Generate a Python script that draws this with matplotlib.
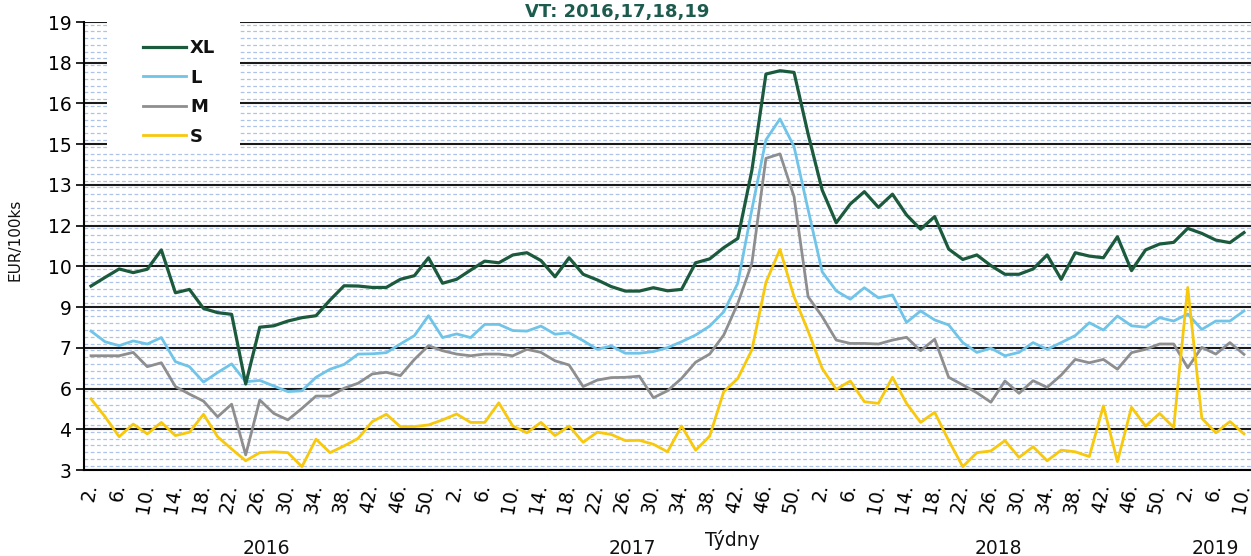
import numpy as np
import matplotlib
matplotlib.use("Agg")
import matplotlib.pyplot as plt
from matplotlib.patches import Rectangle
from matplotlib.ticker import FixedLocator, MultipleLocator

# týdny (každý druhý týden)
weeks_2016 = list(range(2, 53, 2))
weeks_2017 = list(range(2, 53, 2))
weeks_2018 = list(range(2, 53, 2))
weeks_2019 = [2, 4, 6, 8, 10]
years = ["2016", "2017", "2018", "2019"]

xl = [9.57, 9.88, 10.18, 10.05, 10.17, 10.86, 9.33, 9.45, 8.77, 8.62, 8.56, 6.07, 8.10,
      8.15, 8.32, 8.44, 8.51, 9.07, 9.58, 9.57, 9.52, 9.52, 9.81, 9.94, 10.58, 9.67,
      9.81, 10.14, 10.46, 10.40, 10.68, 10.76, 10.48, 9.90, 10.58, 9.99, 9.79, 9.55,
      9.39, 9.39, 9.51, 9.40, 9.45, 10.40, 10.54, 10.94, 11.27, 13.7, 17.14, 17.26,
      17.20, 15.0, 13.0, 11.83, 12.50, 12.94, 12.38, 12.85, 12.11, 11.60, 12.05, 10.89,
      10.52, 10.68, 10.30, 9.99, 9.99, 10.18, 10.68, 9.81, 10.76, 10.64, 10.58, 11.33,
      10.12, 10.86, 11.07, 11.13, 11.63, 11.45, 11.21, 11.12, 11.48]

l = [7.96, 7.58, 7.44, 7.61, 7.50, 7.73, 6.87, 6.69, 6.14, 6.48, 6.79, 6.15, 6.20,
     6.00, 5.80, 5.83, 6.31, 6.60, 6.77, 7.14, 7.15, 7.19, 7.50, 7.80, 8.51, 7.73,
     7.86, 7.73, 8.20, 8.20, 7.98, 7.96, 8.14, 7.85, 7.90, 7.62, 7.31, 7.43, 7.17,
     7.17, 7.23, 7.37, 7.58, 7.82, 8.14, 8.65, 9.67, 12.3, 14.79, 15.54, 14.55, 12.3,
     10.08, 9.40, 9.10, 9.51, 9.15, 9.25, 8.27, 8.68, 8.36, 8.18, 7.55, 7.20, 7.35,
     7.08, 7.20, 7.55, 7.31, 7.55, 7.80, 8.26, 8.00, 8.50, 8.15, 8.10, 8.44, 8.32,
     8.57, 8.02, 8.32, 8.32, 8.68]

m = [7.08, 7.08, 7.08, 7.20, 6.69, 6.83, 5.98, 5.71, 5.46, 4.90, 5.35, 3.54, 5.50,
     5.02, 4.79, 5.20, 5.64, 5.64, 5.92, 6.10, 6.43, 6.49, 6.37, 6.95, 7.44, 7.26,
     7.14, 7.08, 7.14, 7.14, 7.08, 7.31, 7.20, 6.90, 6.75, 5.98, 6.21, 6.30, 6.31,
     6.35, 5.58, 5.83, 6.27, 6.85, 7.14, 7.82, 8.95, 10.38, 14.13, 14.29, 12.76, 9.19,
     8.48, 7.64, 7.52, 7.52, 7.50, 7.64, 7.74, 7.26, 7.67, 6.31, 6.04, 5.76, 5.42,
     6.18, 5.74, 6.19, 5.95, 6.39, 6.95, 6.83, 6.95, 6.60, 7.19, 7.31, 7.50, 7.50,
     6.65, 7.38, 7.14, 7.55, 7.13]

s = [5.54, 4.90, 4.19, 4.64, 4.29, 4.70, 4.23, 4.35, 4.99, 4.19, 3.75, 3.33, 3.62,
     3.65, 3.62, 3.12, 4.10, 3.62, 3.86, 4.13, 4.73, 4.99, 4.55, 4.55, 4.61, 4.79,
     5.00, 4.70, 4.70, 5.40, 4.57, 4.33, 4.70, 4.23, 4.57, 3.99, 4.35, 4.27, 4.05,
     4.06, 3.92, 3.65, 4.57, 3.71, 4.21, 5.80, 6.27, 7.29, 9.70, 10.88, 9.19, 7.96,
     6.63, 5.88, 6.18, 5.44, 5.38, 6.31, 5.38, 4.70, 5.06, 4.05, 3.12, 3.62, 3.68,
     4.05, 3.45, 3.83, 3.33, 3.71, 3.65, 3.48, 5.29, 3.30, 5.24, 4.57, 5.02, 4.52,
     9.52, 4.85, 4.33, 4.73, 4.29]

weeks = weeks_2016 + weeks_2017 + weeks_2018 + weeks_2019
year_lens = [len(weeks_2016), len(weeks_2017), len(weeks_2018), len(weeks_2019)]
x = np.arange(len(weeks))

W, H = 1251, 556
fig = plt.figure(figsize=(W / 100, H / 100), dpi=100)
ax = fig.add_axes([84 / W, 1 - 470 / H, (W - 84) / W, 448 / H])

ax.plot(x, xl, color="#1b5a3c", lw=2.3, label="XL", zorder=5)
ax.plot(x, l, color="#6fc4e8", lw=2.0, label="L", zorder=4)
ax.plot(x, m, color="#8e8e8e", lw=2.0, label="M", zorder=4)
ax.plot(x, s, color="#f8c80c", lw=2.0, label="S", zorder=4)

ax.set_xlim(-0.5, len(weeks) - 0.5)
ax.set_ylim(3, 19)

# osa y: hlavní krok 16/11 jako v Excelu, popisky zaokrouhlené
major = [3 + k * 16 / 11 for k in range(12)]
ax.yaxis.set_major_locator(FixedLocator(major))
ax.yaxis.set_minor_locator(MultipleLocator(16 / 66))
ax.set_yticklabels(["%.0f" % v for v in major])
ax.set_axisbelow(True)
ax.grid(which="minor", axis="y", color="#adc3ea", lw=0.9, ls=(0, (3, 2)))
ax.grid(which="major", axis="y", color="#1a1a1a", lw=1.5, ls="-")
ax.tick_params(axis="y", which="major", length=6, width=1.2, labelsize=13.5, pad=3)
ax.tick_params(axis="y", which="minor", length=0)

ticks = x[::2]
ax.set_xticks(ticks)
ax.set_xticklabels(["%d." % weeks[i] for i in ticks], rotation=80,
                   rotation_mode="anchor", ha="right", va="center")
ax.tick_params(axis="x", length=0, labelsize=13.5, pad=10)

for side in ["top", "right"]:
    ax.spines[side].set_visible(False)
ax.spines["left"].set_linewidth(1.5)
ax.spines["bottom"].set_linewidth(1.5)

# roky pod osou
start = 0
for yr, n in zip(years, year_lens):
    ax.text(start + (n - 1) / 2, -0.176, yr, transform=ax.get_xaxis_transform(),
            ha="center", va="center", fontsize=13.5, color="#111111")
    start += n
ax.text(45.6, -0.156, "Týdny", transform=ax.get_xaxis_transform(),
        ha="center", va="center", fontsize=13.5, color="#111111")

fig.text(15 / W, 1 - 240 / H, "EUR/100ks", rotation=90, ha="center", va="center",
         fontsize=11, color="#111111")
fig.text(617 / W, 1 - 17 / H, "VT: 2016,17,18,19", ha="center", va="baseline",
         fontsize=13, fontweight="bold", color="#1c5b4d")

# bílé pole pod legendou
ax.add_patch(Rectangle((23 / 1167, 1 - 130 / 448), 133 / 1167, 130 / 448,
                       transform=ax.transAxes, facecolor="white", edgecolor="none",
                       zorder=1))
leg = ax.legend(loc="upper left", bbox_to_anchor=(59 / 1167, 1 - 17 / 448),
                frameon=False, borderpad=0, borderaxespad=0, handlelength=2.4,
                handletextpad=0.2, labelspacing=0.64,
                prop={"size": 13, "weight": "bold"})
for t in leg.get_texts():
    t.set_color("#111111")

fig.savefig("out.png", dpi=100)
